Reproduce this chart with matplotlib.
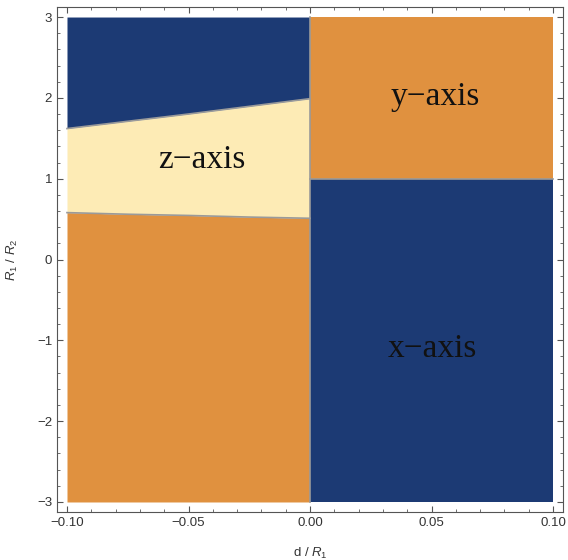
import numpy as np
import matplotlib
matplotlib.use("Agg")
import matplotlib.pyplot as plt
from matplotlib.ticker import MultipleLocator

plt.rcParams['font.family'] = ['Liberation Sans', 'DejaVu Sans']
plt.rcParams['mathtext.fontset'] = 'custom'
plt.rcParams['mathtext.rm'] = 'Liberation Sans'
plt.rcParams['mathtext.it'] = 'Liberation Sans:italic'

# boundary curves (x < 0 half)
d_left = [-0.100, -0.075, -0.050, -0.025, 0.000]
upper_curve = [1.62, 1.71, 1.80, 1.895, 1.99]   # blue / yellow border
lower_curve = [0.58, 0.56, 0.545, 0.525, 0.51]  # yellow / orange border

d_right = [0.0, 0.1]
right_split = [1.0, 1.0]  # orange above, blue below

y_min, y_max = -3, 3

# region labels
region_names = ["z\u2212axis", "y\u2212axis", "x\u2212axis"]
region_pos = [(-0.0444, 1.23), (0.0514, 2.01), (0.0505, -1.10)]

blue = '#1c3a74'
orange = '#e0913f'
yellow = '#fdebb5'
edge = '#9a9a9a'

fig = plt.figure(figsize=(5.68, 5.6), dpi=100)
ax = fig.add_axes([0.1004, 0.0857, 0.8908, 0.9018])

# left half
ax.fill_between(d_left, upper_curve, y_max, color=blue, lw=0)
ax.fill_between(d_left, lower_curve, upper_curve, color=yellow, lw=0)
ax.fill_between(d_left, y_min, lower_curve, color=orange, lw=0)
# right half
ax.fill_between(d_right, right_split, y_max, color=orange, lw=0)
ax.fill_between(d_right, y_min, right_split, color=blue, lw=0)

# borders between regions
ax.plot(d_left, upper_curve, color=edge, lw=1.2)
ax.plot(d_left, lower_curve, color=edge, lw=1.2)
ax.plot(d_right, right_split, color=edge, lw=1.2)
ax.plot([0, 0], [y_min, y_max], color=edge, lw=1.2)

for name, (px, py) in zip(region_names, region_pos):
    ax.text(px, py, name, family='Liberation Serif', fontsize=24,
            ha='center', va='center', color='#111111')

ax.set_xlim(-0.1041, 0.1041)
ax.set_ylim(-3.124, 3.124)

ax.xaxis.set_major_locator(MultipleLocator(0.05))
ax.xaxis.set_minor_locator(MultipleLocator(0.01))
ax.yaxis.set_major_locator(MultipleLocator(1))
ax.yaxis.set_minor_locator(MultipleLocator(0.2))
ax.xaxis.set_major_formatter(plt.FuncFormatter(lambda v, p: f"{v:.2f}".replace('-', '\u2212')))
ax.yaxis.set_major_formatter(plt.FuncFormatter(lambda v, p: f"{v:.0f}".replace('-', '\u2212')))

ax.tick_params(which='both', direction='in', top=True, right=True,
               colors='#555555', labelcolor='#333333', labelsize=9.5)
ax.tick_params(which='major', length=4.5, width=0.8)
ax.tick_params(which='minor', length=2.5, width=0.6)
for s in ax.spines.values():
    s.set_color('#555555')
    s.set_linewidth(0.8)

ax.set_xlabel("d / $R_1$", fontsize=9.5, color='#333333', labelpad=12)
ax.set_ylabel("$R_1$ / $R_2$", fontsize=9.5, color='#333333', labelpad=12)

fig.savefig("out.png", dpi=100)
